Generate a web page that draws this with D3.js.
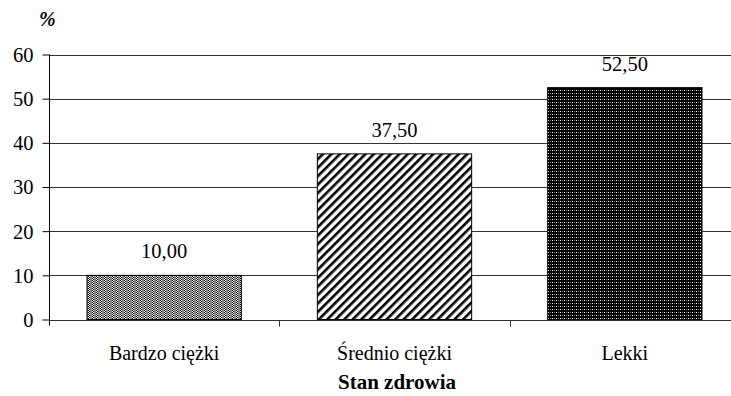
<!DOCTYPE html>
<html>
<head>
<meta charset="utf-8">
<script src="https://cdn.jsdelivr.net/npm/d3@7/dist/d3.min.js"></script>
<style>
  html, body { margin: 0; padding: 0; background: #fff; }
  svg { display: block; }
</style>
</head>
<body>
<svg id="chart" width="731" height="396" font-family="Liberation Serif"></svg>
<script>
// Health status categories and their shares (%)
const categories = ["Bardzo ciężki", "Średnio ciężki", "Lekki"];
const values = [10.00, 37.50, 52.50];
const yTicks = [0, 10, 20, 30, 40, 50, 60];
const patternIds = ["pat-grey", "pat-diag", "pat-dark"];
const axisTitle = "Stan zdrowia";
const unitLabel = "%";

const FONT = "Liberation Serif";
const svg = d3.select("#chart");
const plotLeft = 49, plotRight = 740, plotTop = 54.5, plotBottom = 319.5;

const x = d3.scaleBand().domain(categories).range([plotLeft, plotRight]).paddingInner(0.33).paddingOuter(0.165);
const y = d3.scaleLinear().domain([0, 60]).range([plotBottom, plotTop]);

// Fill patterns for the bars
const defs = svg.append("defs");

// fine grey dither with vertical darker columns
const p1 = defs.append("pattern").attr("id", "pat-grey").attr("patternUnits", "userSpaceOnUse")
  .attr("width", 4).attr("height", 2);
p1.append("rect").attr("width", 4).attr("height", 2).attr("fill", "#fff");
p1.append("rect").attr("x", 0).attr("y", 0).attr("width", 1).attr("height", 1).attr("fill", "#000");
p1.append("rect").attr("x", 1).attr("y", 1).attr("width", 1).attr("height", 1).attr("fill", "#000");
p1.append("rect").attr("x", 2).attr("y", 0).attr("width", 2).attr("height", 2).attr("fill", "#858585");

// diagonal stripes (top-left to bottom-right)
const p2 = defs.append("pattern").attr("id", "pat-diag").attr("patternUnits", "userSpaceOnUse")
  .attr("width", 6).attr("height", 6).attr("patternTransform", "rotate(45)");
p2.append("rect").attr("width", 6).attr("height", 6).attr("fill", "#fff");
p2.append("rect").attr("x", 0).attr("y", 0).attr("width", 2.6).attr("height", 6).attr("fill", "#000");

// black with small white dots
const p3 = defs.append("pattern").attr("id", "pat-dark").attr("patternUnits", "userSpaceOnUse")
  .attr("width", 4).attr("height", 3);
p3.append("rect").attr("width", 4).attr("height", 3).attr("fill", "#000");
p3.append("rect").attr("x", 0).attr("y", 0).attr("width", 1).attr("height", 1).attr("fill", "#fff");
p3.append("rect").attr("x", 2).attr("y", 0).attr("width", 1).attr("height", 1).attr("fill", "#777");

// Horizontal gridlines
svg.append("g").selectAll("line").data(yTicks.filter(d => d > 0)).join("line")
  .attr("x1", plotLeft).attr("x2", plotRight)
  .attr("y1", d => Math.round(y(d)) + 0.5).attr("y2", d => Math.round(y(d)) + 0.5)
  .attr("stroke", "#333").attr("stroke-width", 1);

// Bars
svg.append("g").selectAll("rect").data(values).join("rect")
  .attr("x", (d, i) => x(categories[i]))
  .attr("y", d => y(d))
  .attr("width", x.bandwidth())
  .attr("height", d => y(0) - y(d))
  .attr("fill", (d, i) => `url(#${patternIds[i]})`)
  .attr("stroke", "#000").attr("stroke-width", 1);

// Value labels
svg.append("g").selectAll("text").data(values).join("text")
  .attr("x", (d, i) => x(categories[i]) + x.bandwidth() / 2)
  .attr("y", d => y(d) - 17)
  .attr("text-anchor", "middle")
  .attr("font-family", FONT)
  .attr("font-size", 20.5)
  .attr("fill", "#000")
  .text(d => d.toFixed(2).replace(".", ","));

// Y axis
const yAxis = svg.append("g").attr("transform", `translate(${plotLeft + 0.5},0)`)
  .call(d3.axisLeft(y).tickValues(yTicks).tickSize(7).tickPadding(9))
  .attr("font-family", FONT).attr("font-size", 20.5);
yAxis.select(".domain").remove();
yAxis.append("line").attr("x1", 0).attr("x2", 0).attr("y1", plotTop).attr("y2", plotBottom + 6).attr("stroke", "#000");
yAxis.selectAll(".tick line").attr("stroke", "#000");
yAxis.selectAll(".tick text").attr("fill", "#000").attr("font-family", FONT).attr("dy", "0.34em");

// X axis: baseline, boundary ticks and category labels
const xAxis = svg.append("g").attr("transform", `translate(0,${Math.round(plotBottom) + 0.5})`);
xAxis.append("line").attr("x1", plotLeft).attr("x2", plotRight).attr("y1", 0).attr("y2", 0).attr("stroke", "#333");
const step = x.step();
const bounds = categories.slice(1).map(c => x(c) - step * x.paddingInner() / 2);
xAxis.selectAll(".bt").data(bounds).join("line").attr("class", "bt")
  .attr("x1", d => Math.round(d) + 0.5).attr("x2", d => Math.round(d) + 0.5)
  .attr("y1", 0).attr("y2", 6).attr("stroke", "#333");
xAxis.selectAll(".cl").data(categories).join("text").attr("class", "cl")
  .attr("x", d => x(d) + x.bandwidth() / 2)
  .attr("y", 39)
  .attr("text-anchor", "middle")
  .attr("font-family", FONT)
  .attr("font-size", 20)
  .attr("fill", "#000")
  .text(d => d);

// Axis titles
svg.append("text").attr("x", 397).attr("y", 389).attr("text-anchor", "middle")
  .attr("font-family", FONT).attr("font-size", 21).attr("font-weight", "bold")
  .attr("fill", "#000").text(axisTitle);
svg.append("text").attr("x", 39).attr("y", 26)
  .attr("font-family", FONT).attr("font-size", 20).attr("font-weight", "bold").attr("font-style", "italic")
  .attr("fill", "#000").text(unitLabel);
</script>
</body>
</html>
